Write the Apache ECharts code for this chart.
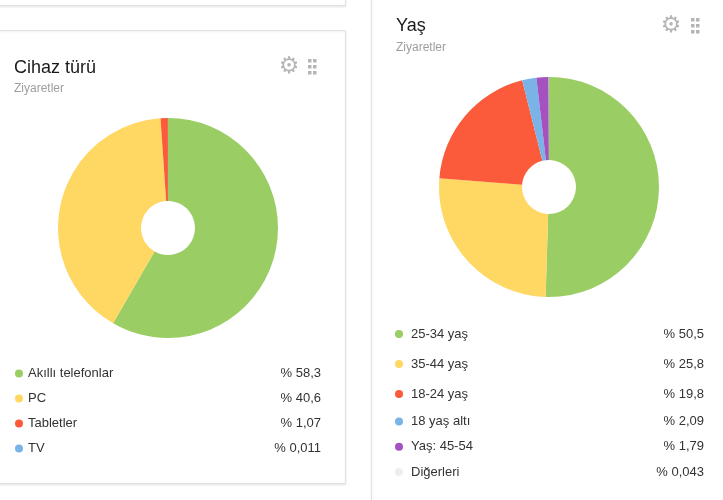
<!DOCTYPE html>
<html lang="tr">
<head>
    <meta charset="UTF-8">
    <title>Cihaz türü / Yaş</title>
    <script src="https://cdn.jsdelivr.net/npm/echarts@6.0.0/dist/echarts.min.js"></script>
    <style>
        html, body { margin: 0; padding: 0; background: #fff; }
    </style>
</head>
<body>
<div id="main" style="width: 723px;height:500px;"></div>
<script>

    // Cihaz türü (ziyaretler, %)
    var deviceNames = ['Akıllı telefonlar', 'PC', 'Tabletler', 'TV'];
    var deviceValues = [58.3, 40.6, 1.07, 0.011];

    // Yaş (ziyaretler, %)
    var ageNames = ['25-34 yaş', '35-44 yaş', '18-24 yaş', '18 yaş altı', 'Yaş: 45-54', 'Diğerleri'];
    var ageValues = [50.5, 25.8, 19.8, 2.09, 1.79, 0.043];

    var FONT = 'Arial, "Liberation Sans", sans-serif';

    function toData(names, values) {
        return names.map(function (n, i) { return {name: n, value: values[i]}; });
    }

    // isim -> değer
    var valueOf = {};
    deviceNames.forEach(function (n, i) { valueOf[n] = deviceValues[i]; });
    ageNames.forEach(function (n, i) { valueOf[n] = ageValues[i]; });

    function pct(v) {
        return '% ' + String(v).replace('.', ',');
    }

    function legendRich(nPad) {
        return {
            n: {fontSize: 13, color: '#333', fontFamily: FONT, width: 200, lineHeight: 16, padding: [0, 0, 0, nPad]},
            v: {fontSize: 13, color: '#333', fontFamily: FONT, width: 93, align: 'right', lineHeight: 16}
        };
    }

    function legendFmt(name) {
        return '{n|' + name + '}{v|' + pct(valueOf[name]) + '}';
    }

    // kart çerçeveleri ve ikonlar
    function card(x, y, w, h) {
        return {
            type: 'rect', z: -10, silent: true,
            shape: {x: x, y: y, width: w, height: h},
            style: {fill: '#fff', stroke: '#e2e2e2', lineWidth: 1,
                shadowBlur: 2, shadowOffsetY: 1, shadowColor: 'rgba(0,0,0,0.08)'}
        };
    }

    function gear(x, y) {
        return {
            type: 'text', silent: true, x: x, y: y,
            style: {text: '\u2699', font: '23px "DejaVu Sans"', fill: '#b5b5b5',
                align: 'center', verticalAlign: 'middle'}
        };
    }

    function dots(x, y) {
        var out = [];
        for (var r = 0; r < 3; r++) {
            for (var c = 0; c < 2; c++) {
                out.push({
                    type: 'rect', silent: true,
                    shape: {x: x + c * 5, y: y + r * 6, width: 3.5, height: 3.5},
                    style: {fill: '#b5b5b5'}
                });
            }
        }
        return out;
    }

    var graphics = [
        card(-10.5, -10.5, 356, 16),
        card(-10.5, 30.5, 356, 453),
        card(371.5, -10.5, 400, 530),
        gear(289, 67),
        gear(671, 26)
    ].concat(dots(308, 59)).concat(dots(691, 18));

    var myChart = echarts.init(document.getElementById('main'));

    var option = {
        animation: false,
        textStyle: {fontFamily: FONT},
        graphic: graphics,
        title: [
            {text: 'Cihaz türü', left: 14, top: 59, padding: 0,
                textStyle: {fontSize: 18, fontWeight: 'normal', color: '#1a1a1a', fontFamily: FONT}},
            {text: 'Ziyaretler', left: 14, top: 83, padding: 0,
                textStyle: {fontSize: 12, fontWeight: 'normal', color: '#9e9e9e', fontFamily: FONT}},
            {text: 'Yaş', left: 396, top: 17, padding: 0,
                textStyle: {fontSize: 18, fontWeight: 'normal', color: '#1a1a1a', fontFamily: FONT}},
            {text: 'Ziyaretler', left: 396, top: 42, padding: 0,
                textStyle: {fontSize: 12, fontWeight: 'normal', color: '#9e9e9e', fontFamily: FONT}}
        ],
        legend: [
            {
                orient: 'vertical', left: 15, top: 367, padding: 0, itemGap: 12,
                itemWidth: 8, itemHeight: 8, icon: 'circle',
                data: deviceNames, selectedMode: false,
                formatter: legendFmt,
                textStyle: {rich: legendRich(0)}
            },
            {
                orient: 'vertical', left: 395, top: 327.5, padding: 0, itemGap: 17,
                itemWidth: 8, itemHeight: 8, icon: 'circle',
                data: ageNames.slice(0, 3), selectedMode: false,
                formatter: legendFmt,
                textStyle: {rich: legendRich(3)}
            },
            {
                orient: 'vertical', left: 395, top: 415, padding: 0, itemGap: 12.3,
                itemWidth: 8, itemHeight: 8, icon: 'circle',
                data: ageNames.slice(3), selectedMode: false,
                formatter: legendFmt,
                textStyle: {rich: legendRich(3)}
            }
        ],
        series: [
            {
                name: 'Cihaz türü',
                type: 'pie',
                center: [168, 228],
                radius: [27, 110],
                startAngle: 90,
                clockwise: true,
                label: {show: false},
                labelLine: {show: false},
                emphasis: {disabled: true},
                color: ['#9acd63', '#ffd763', '#fb5a3b', '#7ab3e6'],
                itemStyle: {borderWidth: 0},
                data: toData(deviceNames, deviceValues)
            },
            {
                name: 'Yaş',
                type: 'pie',
                center: [549, 187],
                radius: [27, 110],
                startAngle: 90,
                clockwise: true,
                label: {show: false},
                labelLine: {show: false},
                emphasis: {disabled: true},
                color: ['#9acd63', '#ffd763', '#fb5a3b', '#7ab3e6', '#a452c0', '#eeeeee'],
                itemStyle: {borderWidth: 0},
                data: toData(ageNames, ageValues)
            }
        ]
    };

    myChart.setOption(option);
</script>
</body>
</html>
